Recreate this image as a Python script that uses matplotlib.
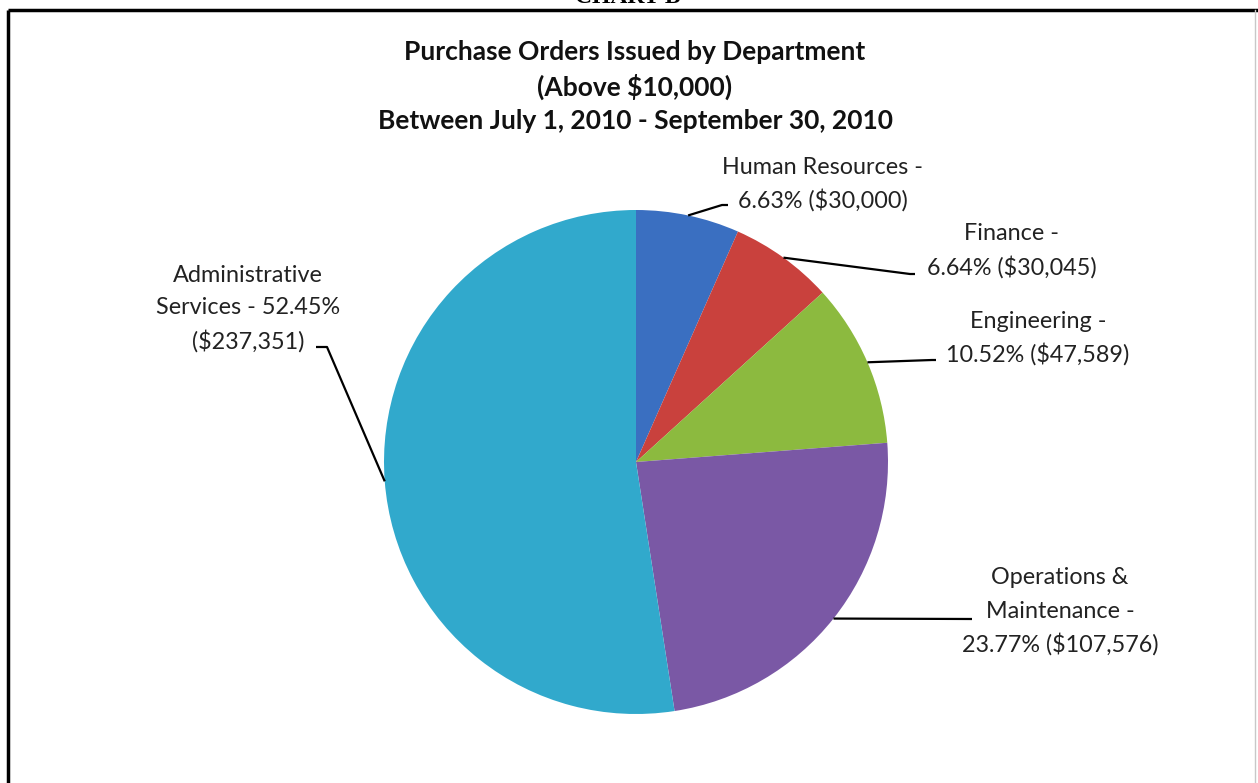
import numpy as np
import matplotlib.pyplot as plt

# data
departments = ["Human Resources", "Finance", "Engineering",
               "Operations & Maintenance", "Administrative Services"]
amounts = [30000, 30045, 47589, 107576, 237351]
percents = [6.63, 6.64, 10.52, 23.77, 52.45]
colors = ["#3a6fc1", "#c9413d", "#8cba3f", "#7a58a5", "#31a9cc"]

title_lines = ["Purchase Orders Issued by Department",
               "(Above $10,000)",
               "Between July 1, 2010 - September 30, 2010"]

# how Excel wrapped each data label
label_lines = [
    ["Human Resources -", "{p}% ({a})"],
    ["Finance -", "{p}% ({a})"],
    ["Engineering -", "{p}% ({a})"],
    ["Operations &", "Maintenance -", "{p}% ({a})"],
    ["Administrative", "Services - {p}%", "({a})"],
]

W, H = 1258, 783
FONT = "Lato"


def py(y):
    # pixel rows (top-down) -> data y (bottom-up)
    return H - y


fig = plt.figure(figsize=(W / 100, H / 100), dpi=100)
fig.patch.set_facecolor("white")
ax = fig.add_axes([0, 0, 1, 1])

cx, cy, r = 636, py(462), 252
wedges, _ = ax.pie(amounts, colors=colors, startangle=90, counterclock=False,
                   center=(cx, cy), radius=r,
                   wedgeprops=dict(linewidth=0))
ax.set_xlim(0, W)
ax.set_ylim(0, H)
ax.set_aspect("equal")
ax.axis("off")

# label placement (centre x, first line y) and leader elbows, in pixels
label_pos = [(823, 167), (1012, 234), (1038, 321), (1060, 578), (248, 275)]
leader_pts = [
    [(722, 205), (728, 205)],
    [(910, 274), (915, 274)],
    [(932, 360), (936, 360)],
    [(972, 619)],
    [(327, 347), (316, 347)],
]
line_gap = 33

for i, w in enumerate(wedges):
    lines = [s.format(p=f"{percents[i]:.2f}", a=f"${amounts[i]:,}") for s in label_lines[i]]
    lx, ly = label_pos[i]
    for k, s in enumerate(lines):
        ax.text(lx, py(ly + k * line_gap), s, ha="center", va="center",
                fontsize=16.8, family=FONT, color="#222222")
    ang = np.deg2rad((w.theta1 + w.theta2) / 2)
    xs = [cx + r * np.cos(ang)] + [p[0] for p in leader_pts[i]]
    ys = [cy + r * np.sin(ang)] + [py(p[1]) for p in leader_pts[i]]
    ax.plot(xs, ys, color="black", lw=1.6, solid_capstyle="butt")

for k, s in enumerate(title_lines):
    ax.text(635, py(52 + k * 34.5), s, ha="center", va="center",
            fontsize=19, fontweight="bold", family=FONT, color="#111111")

# page frame and the clipped heading above it
ax.plot([8, 8], [0, py(10)], color="black", lw=2.5, solid_capstyle="butt")
ax.plot([8, W], [py(10), py(10)], color="black", lw=2.5, solid_capstyle="butt")
ax.plot([1255, 1255], [0, py(10)], color="#c8c8c8", lw=1)
fig.text(628 / W, 1 - 3 / H, "CHART B", ha="center", va="baseline",
         fontsize=17, fontweight="bold", family="Liberation Serif")

fig.savefig("out.png", dpi=100, facecolor="white")
